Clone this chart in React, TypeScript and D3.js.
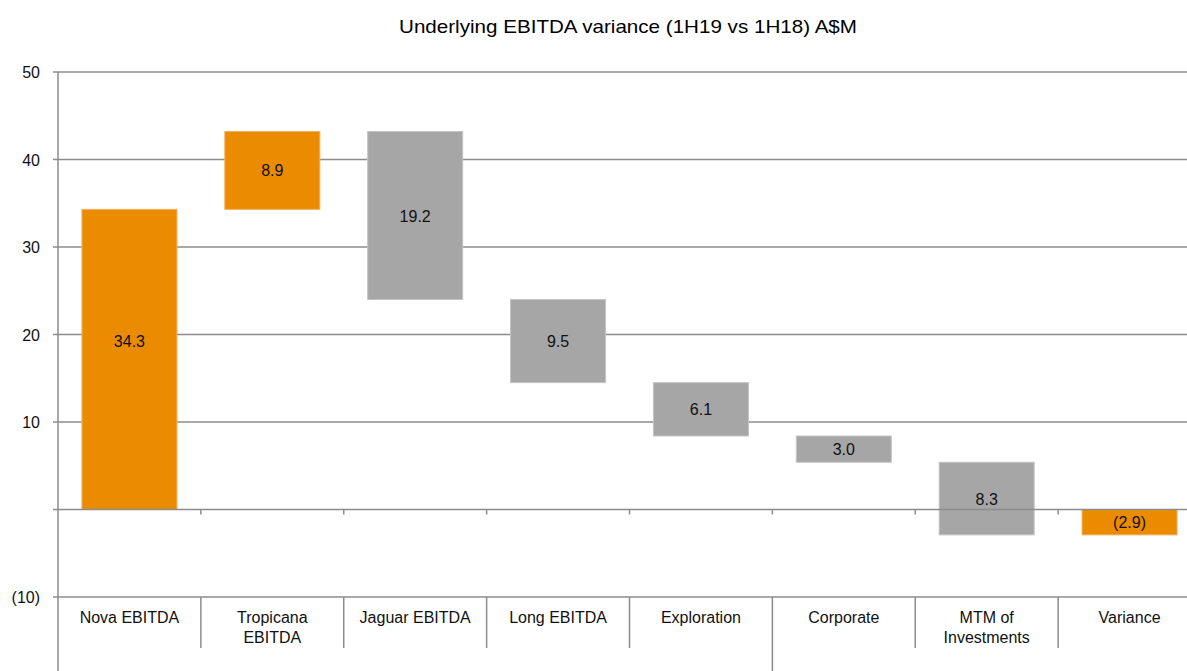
import React from 'react';
import * as d3 from 'd3';

const WIDTH = 1187;
const HEIGHT = 671;

const categories = ['Nova EBITDA', 'Tropicana EBITDA', 'Jaguar EBITDA', 'Long EBITDA', 'Exploration', 'Corporate', 'MTM of Investments', 'Variance'];
const labelLines = [['Nova EBITDA'], ['Tropicana', 'EBITDA'], ['Jaguar EBITDA'], ['Long EBITDA'], ['Exploration'], ['Corporate'], ['MTM of', 'Investments'], ['Variance']];
const barStart = [0, 34.3, 43.2, 24.0, 14.5, 8.4, 5.4, 0];
const barEnd = [34.3, 43.2, 24.0, 14.5, 8.4, 5.4, -2.9, -2.9];
const barLabels = ['34.3', '8.9', '19.2', '9.5', '6.1', '3.0', '8.3', '(2.9)'];
// value at which each data label sits (mostly the bar middle)
const labelAt = [19.3, 38.75, 33.6, 19.25, 11.45, 6.9, 1.25, -1.45];
const barKind = ['orange', 'orange', 'grey', 'grey', 'grey', 'grey', 'grey', 'orange'];
const yTicks = [50, 40, 30, 20, 10, 0, -10];
const yTickLabels = ['50', '40', '30', '20', '10', '', '(10)'];

const FILL = { orange: '#EB8B00', grey: '#A6A6A6' };
const STROKE = { orange: '#F2B060', grey: '#C4C4C4' };
const FONT = 'Liberation Sans, Arial, sans-serif';

export default function App() {
  const left = 58;
  const right = 1201;
  const y = d3.scaleLinear().domain([-10, 50]).range([597, 72]);
  const x = d3.scaleBand().domain(categories).range([left, right]).paddingInner(0.335).paddingOuter(0.1675);
  const step = x.step();
  const bandStart = (i: number) => left + i * step;

  return (
    <svg width={WIDTH} height={HEIGHT} style={{ position: 'absolute', left: 0, top: 0 }} fontFamily={FONT}>
      <text x={628} y={33} textAnchor="middle" fontSize={19} fill="#000" textLength={458} lengthAdjust="spacingAndGlyphs">Underlying EBITDA variance (1H19 vs 1H18) A$M</text>

      {yTicks.filter(t => t !== 0).map(t => (
        <line key={'g' + t} x1={left} x2={right} y1={y(t)} y2={y(t)} stroke="#8C8C8C" strokeWidth={1.5} />
      ))}

      {categories.map((c, i) => {
        const y0 = y(Math.max(barStart[i], barEnd[i]));
        const y1 = y(Math.min(barStart[i], barEnd[i]));
        const k = barKind[i] as 'orange' | 'grey';
        return (
          <g key={c}>
            <rect x={x(c)} y={y0} width={x.bandwidth()} height={y1 - y0} fill={FILL[k]} stroke={STROKE[k]} strokeWidth={1} />
            <text x={x(c)! + x.bandwidth() / 2} y={y(labelAt[i]) + 6} textAnchor="middle" fontSize={16} fill="#111">{barLabels[i]}</text>
          </g>
        );
      })}

      {/* zero line on top of bars */}
      <line x1={left} x2={right} y1={y(0)} y2={y(0)} stroke="#8C8C8C" strokeWidth={1.5} />
      {categories.slice(1).map((c, i) => (
        <line key={'t' + c} x1={bandStart(i + 1)} x2={bandStart(i + 1)} y1={y(0)} y2={y(0) + 5} stroke="#8C8C8C" strokeWidth={1.5} />
      ))}

      {/* y axis */}
      <line x1={left} x2={left} y1={y(50)} y2={HEIGHT} stroke="#8C8C8C" strokeWidth={1.5} />
      {yTicks.map((t, i) => (
        <g key={'y' + t}>
          <line x1={left - 5} x2={left} y1={y(t)} y2={y(t)} stroke="#8C8C8C" strokeWidth={1.5} />
          <text x={40} y={y(t) + 6} textAnchor="end" fontSize={16} fill="#111">{yTickLabels[i]}</text>
        </g>
      ))}

      {/* category separators and labels */}
      {categories.slice(1).map((c, i) => (
        <line key={'s' + c} x1={bandStart(i + 1)} x2={bandStart(i + 1)} y1={y(-10)} y2={i + 1 === 5 ? HEIGHT : 648} stroke="#8C8C8C" strokeWidth={1.5} />
      ))}
      {categories.map((c, i) => (
        <text key={'l' + c} textAnchor="middle" fontSize={16} fill="#111">
          {labelLines[i].map((line, j) => (
            <tspan key={j} x={bandStart(i) + step / 2} y={623 + j * 20}>{line}</tspan>
          ))}
        </text>
      ))}
    </svg>
  );
}
